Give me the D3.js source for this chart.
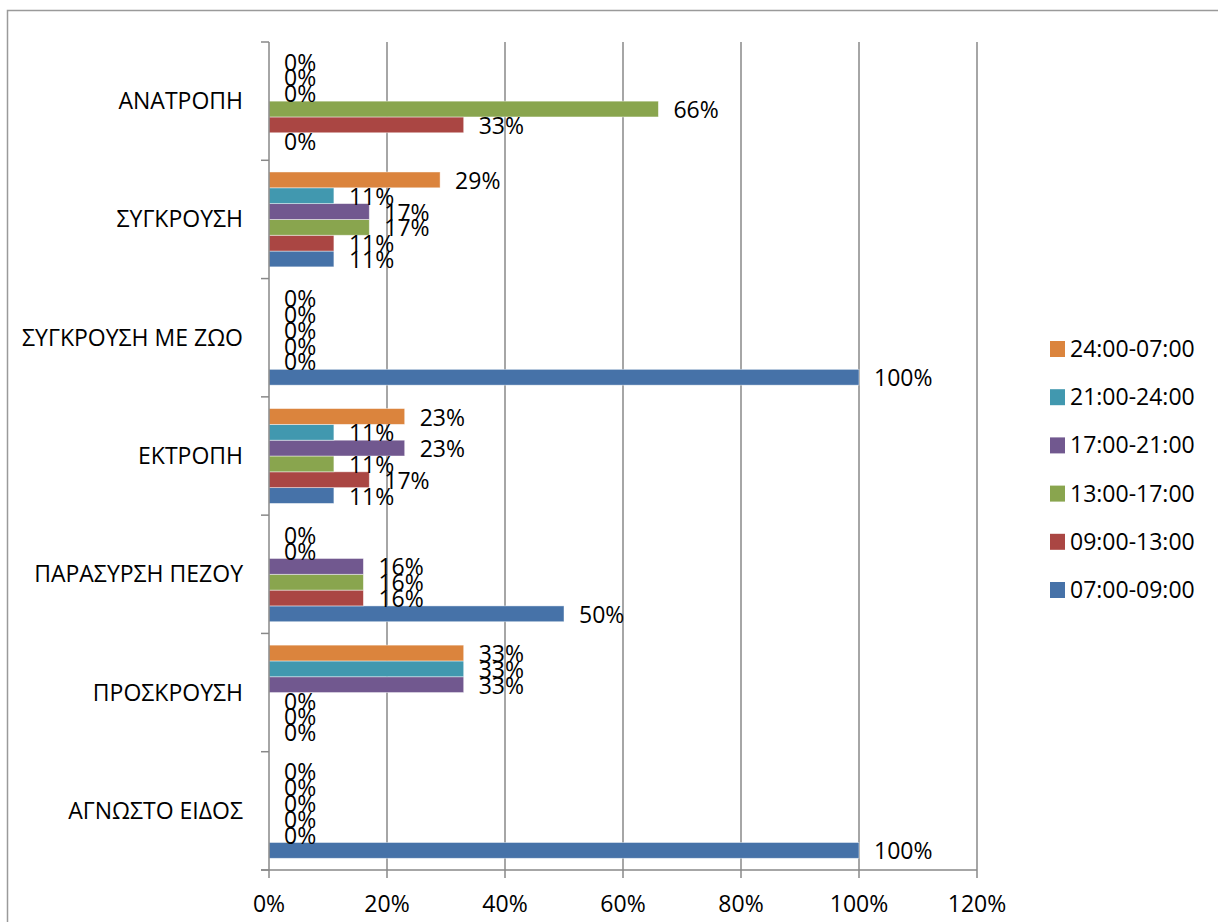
<!DOCTYPE html>
<html>
<head>
<meta charset="utf-8">
<script src="https://cdn.jsdelivr.net/npm/d3@7"></script>
<style>
  html, body { margin: 0; padding: 0; background: #fff; }
  svg { display: block; }
  text { font-family: "Open Sans", "Liberation Sans", sans-serif; fill: #000; }
</style>
</head>
<body>
<svg id="chart" width="1218" height="922"></svg>
<script>
// Accident types, listed from top to bottom of the chart
const categories = [
  "ΑΝΑΤΡΟΠΗ",
  "ΣΥΓΚΡΟΥΣΗ",
  "ΣΥΓΚΡΟΥΣΗ ΜΕ ΖΩΟ",
  "ΕΚΤΡΟΠΗ",
  "ΠΑΡΑΣΥΡΣΗ ΠΕΖΟΥ",
  "ΠΡΟΣΚΡΟΥΣΗ",
  "ΑΓΝΩΣΤΟ ΕΙΔΟΣ"
];

// Time-of-day series (order as in the legend, bottom to top)
const series = ["07:00-09:00", "09:00-13:00", "13:00-17:00", "17:00-21:00", "21:00-24:00", "24:00-07:00"];
const colors = ["#4672a8", "#aa4643", "#89a54e", "#71588f", "#4198af", "#db843d"];

// Share (%) per accident type, one array per time slot, same order as categories
const v0709 = [0, 11, 100, 11, 50, 0, 100];
const v0913 = [33, 11, 0, 17, 16, 0, 0];
const v1317 = [66, 17, 0, 11, 16, 0, 0];
const v1721 = [0, 17, 0, 23, 16, 33, 0];
const v2124 = [0, 11, 0, 11, 0, 33, 0];
const v2407 = [0, 29, 0, 23, 0, 33, 0];
const values = [v0709, v0913, v1317, v1721, v2124, v2407];

const xTicks = [0, 20, 40, 60, 80, 100, 120];

const svg = d3.select("#chart");
const plot = { left: 269, right: 977, top: 42, bottom: 870 };
const gridColor = "#888888";
const fontSize = 23;

// Outer chart frame
svg.append("path")
  .attr("d", "M7.5,922 V10.5 H1218")
  .attr("fill", "none")
  .attr("stroke", "#9a9a9a")
  .attr("stroke-width", 1.5);

const x = d3.scaleLinear().domain([0, 120]).range([plot.left, plot.right]);
const y = d3.scaleBand().domain(categories).range([plot.top, plot.bottom]).padding(0);
// Series within each band: first series at the bottom
const ySub = d3.scaleBand()
  .domain(series.slice().reverse())
  .range([0, y.bandwidth()])
  .paddingInner(0)
  .paddingOuter(0.74);

// Vertical gridlines, extending slightly below the axis as tick marks
svg.append("g").selectAll("line")
  .data(xTicks.filter(t => t > 0))
  .join("line")
  .attr("x1", d => x(d)).attr("x2", d => x(d))
  .attr("y1", plot.top).attr("y2", plot.bottom + 8)
  .attr("stroke", gridColor).attr("stroke-width", 1.5);

// Bars
const groups = svg.append("g").selectAll("g")
  .data(categories)
  .join("g")
  .attr("transform", c => `translate(0,${y(c)})`);

groups.each(function (c, ci) {
  const g = d3.select(this);
  series.forEach((s, si) => {
    const val = values[si][ci];
    if (val > 0) {
      g.append("rect")
        .attr("x", x(0))
        .attr("y", ySub(s))
        .attr("width", x(val) - x(0))
        .attr("height", ySub.bandwidth())
        .attr("fill", colors[si])
        .attr("stroke", "rgba(255,255,255,0.55)")
        .attr("stroke-width", 0.8);
    }
  });
  // Value labels
  series.forEach((s, si) => {
    const val = values[si][ci];
    g.append("text")
      .attr("x", x(val) + 15)
      .attr("y", ySub(s) + ySub.bandwidth() / 2 + 1)
      .attr("dy", "0.35em")
      .attr("font-size", fontSize)
      .text(val + "%");
  });
});

// Category axis (left) with outward ticks at band boundaries
const yAxis = svg.append("g");
yAxis.append("line")
  .attr("x1", plot.left).attr("x2", plot.left)
  .attr("y1", plot.top).attr("y2", plot.bottom)
  .attr("stroke", gridColor).attr("stroke-width", 1.5);
const boundaries = categories.map(c => y(c)).concat([plot.bottom]);
yAxis.selectAll("line.tick")
  .data(boundaries)
  .join("line")
  .attr("class", "tick")
  .attr("x1", plot.left - 8).attr("x2", plot.left)
  .attr("y1", d => d).attr("y2", d => d)
  .attr("stroke", gridColor).attr("stroke-width", 1.5);
yAxis.selectAll("text")
  .data(categories)
  .join("text")
  .attr("x", 243)
  .attr("y", c => y(c) + y.bandwidth() / 2)
  .attr("dy", "0.35em")
  .attr("text-anchor", "end")
  .attr("font-size", fontSize)
  .text(c => c);

// Value axis (bottom)
const xAxis = svg.append("g");
xAxis.append("line")
  .attr("x1", plot.left - 8).attr("x2", plot.right)
  .attr("y1", plot.bottom).attr("y2", plot.bottom)
  .attr("stroke", gridColor).attr("stroke-width", 1.5);
xAxis.append("line")
  .attr("x1", plot.left).attr("x2", plot.left)
  .attr("y1", plot.bottom).attr("y2", plot.bottom + 8)
  .attr("stroke", gridColor).attr("stroke-width", 1.5);
xAxis.selectAll("text")
  .data(xTicks)
  .join("text")
  .attr("x", d => x(d))
  .attr("y", 904)
  .attr("dy", "0.35em")
  .attr("text-anchor", "middle")
  .attr("font-size", fontSize)
  .text(d => d + "%");

// Legend (last series on top)
const legend = svg.append("g");
const legendOrder = series.map((s, i) => i).reverse();
legendOrder.forEach((si, row) => {
  const cy = 349 + row * 48.2;
  legend.append("rect")
    .attr("x", 1050).attr("y", cy - 8)
    .attr("width", 15).attr("height", 16)
    .attr("fill", colors[si]);
  legend.append("text")
    .attr("x", 1070).attr("y", cy)
    .attr("dy", "0.35em")
    .attr("font-size", fontSize)
    .text(series[si]);
});
</script>
</body>
</html>
